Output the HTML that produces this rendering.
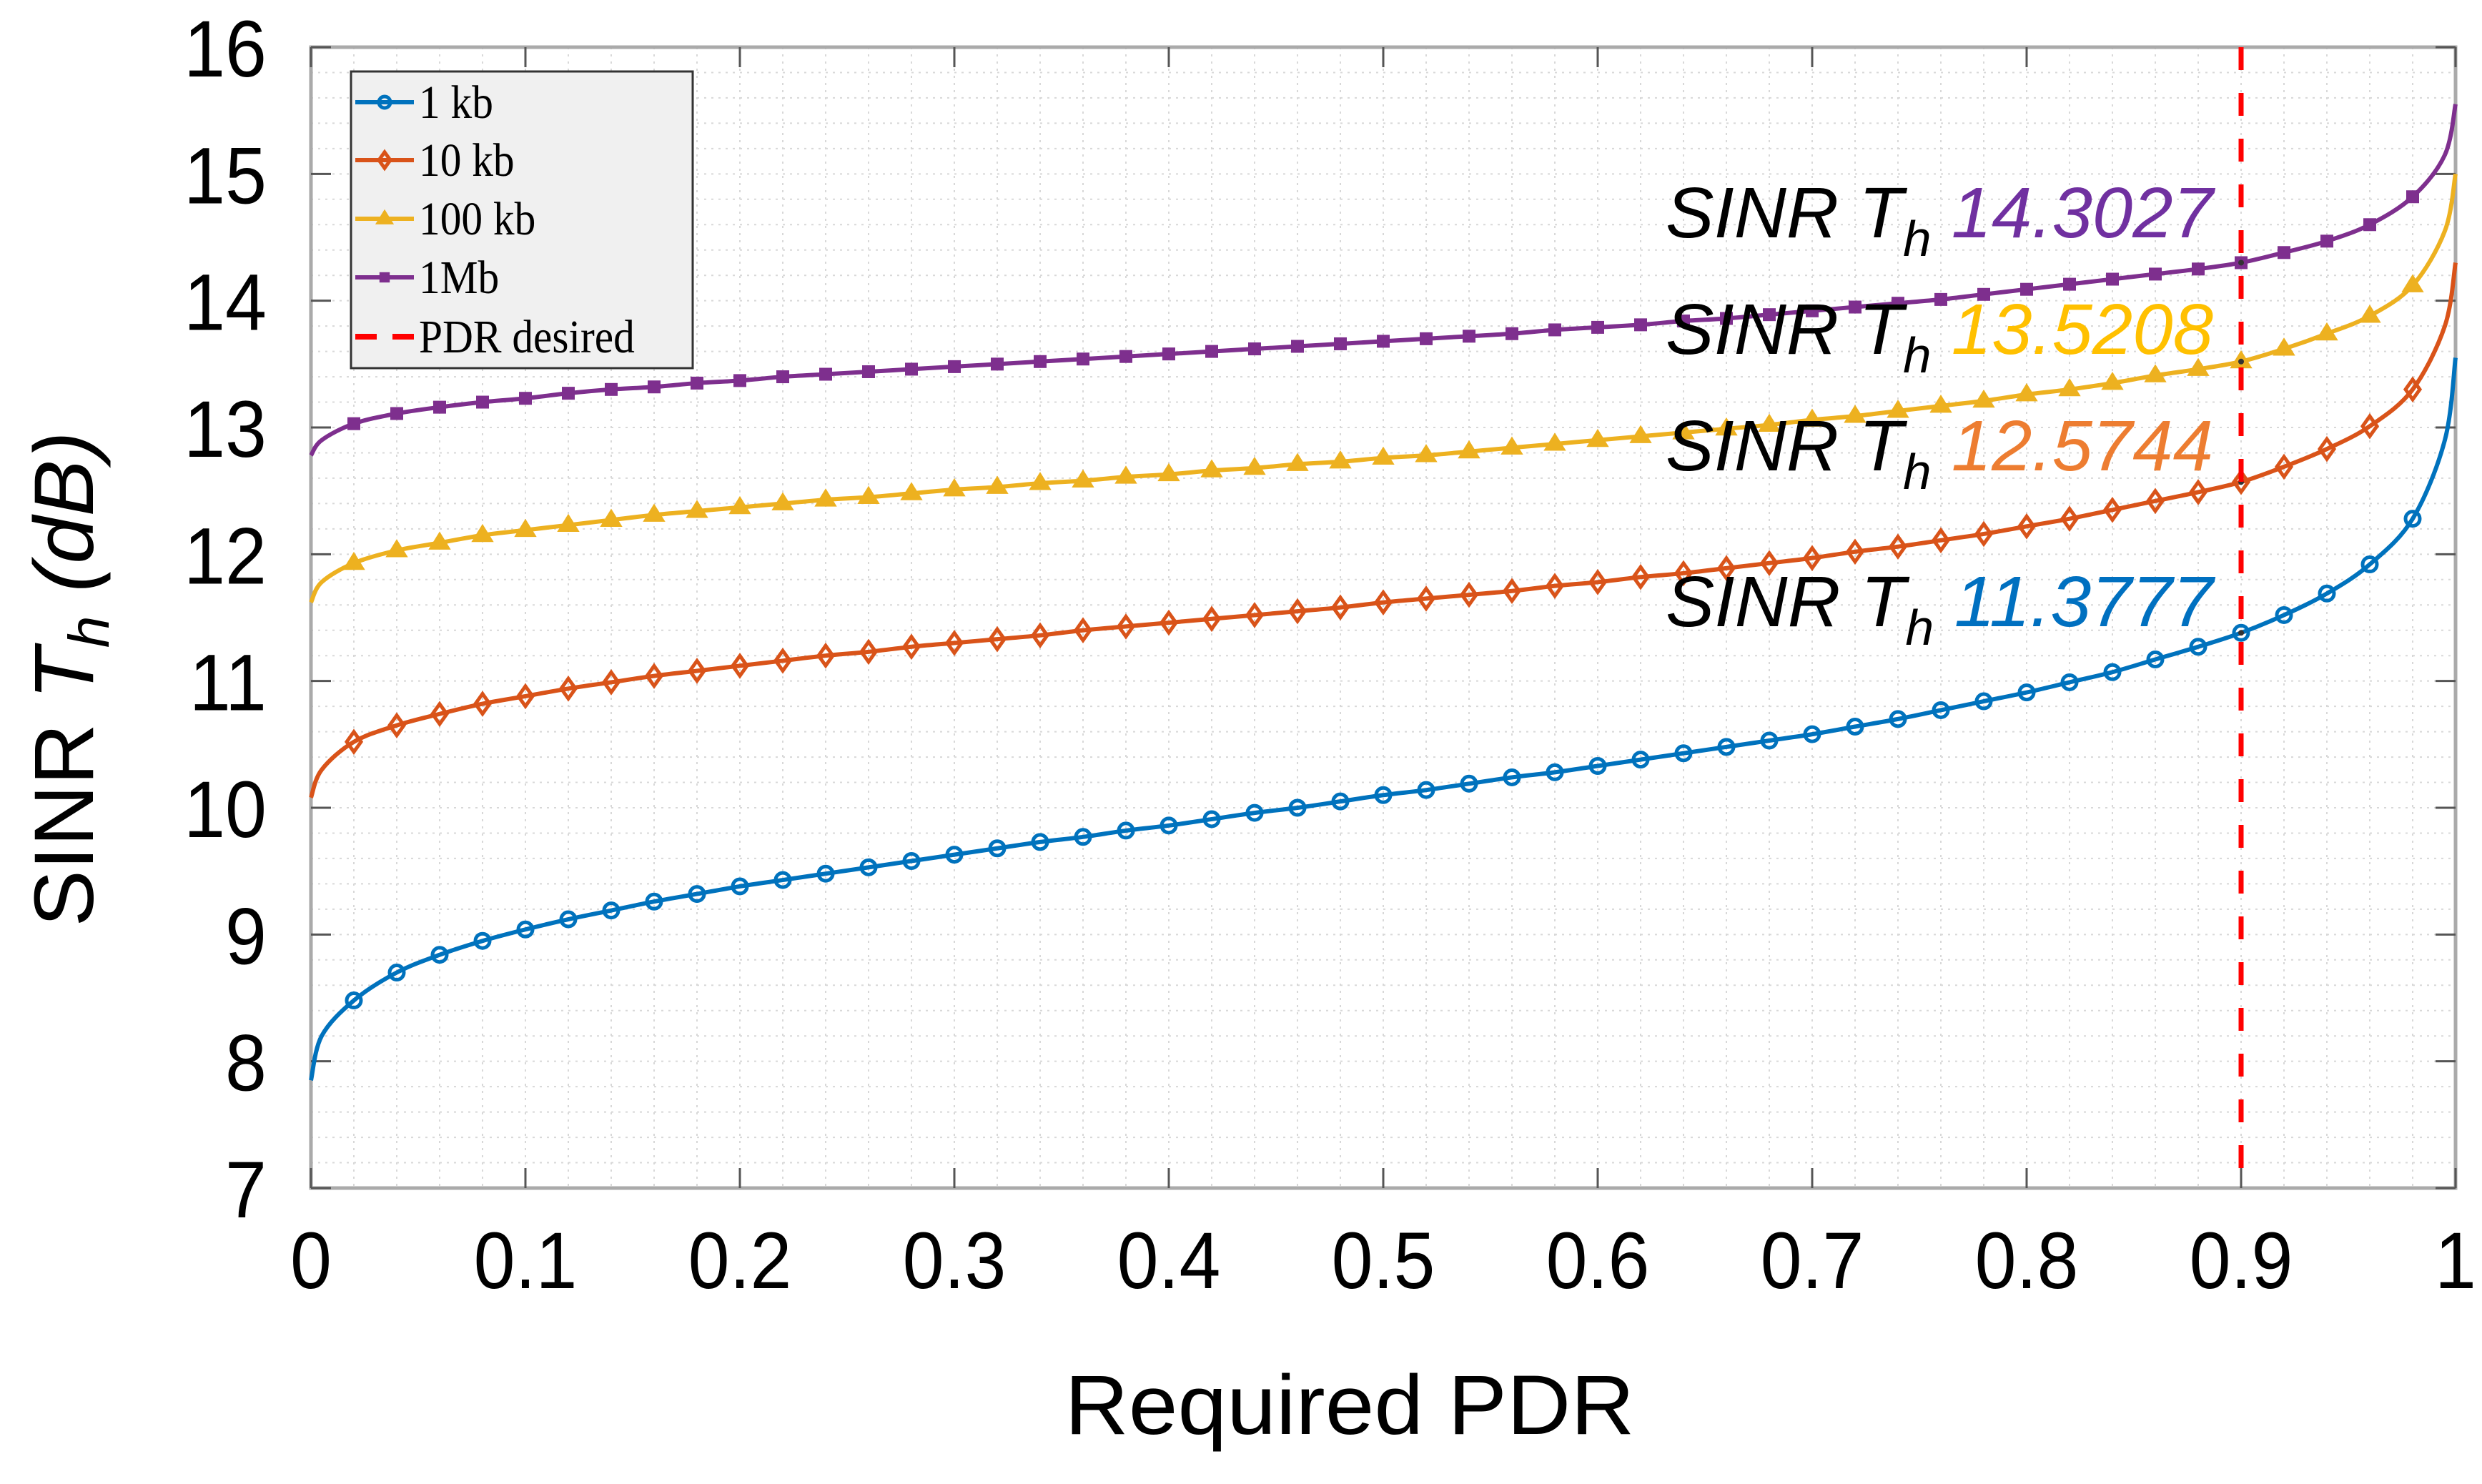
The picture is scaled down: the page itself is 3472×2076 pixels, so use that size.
<!DOCTYPE html>
<html><head><meta charset="utf-8"><style>
html,body{margin:0;padding:0;background:#fff;}
svg{display:block;}
</style></head><body>
<svg id="chart" xmlns="http://www.w3.org/2000/svg" width="3472" height="2076" viewBox="0 0 3472 2076">
<rect width="3472" height="2076" fill="#fff"/>
<g id="grid"></g>
<g id="axes"></g>
<g id="series"></g>
<g id="annot"></g>
<g id="legend"></g>
</svg>
<script>
const xs = [0,0.005,0.02,0.04,0.06,0.08,0.1,0.12,0.14,0.16,0.18,0.2,0.22,0.24,0.26,0.28,0.3,0.32,0.34,0.36,0.38,0.4,0.42,0.44,0.46,0.48,0.5,0.52,0.54,0.56,0.58,0.6,0.62,0.64,0.66,0.68,0.7,0.72,0.74,0.76,0.78,0.8,0.82,0.84,0.86,0.88,0.9,0.92,0.94,0.96,0.98,0.995,1];
const s1kb = [7.85,8.2,8.48,8.70,8.84,8.95,9.04,9.12,9.19,9.26,9.32,9.38,9.43,9.48,9.53,9.58,9.63,9.68,9.73,9.77,9.82,9.86,9.91,9.96,10.0,10.05,10.1,10.14,10.19,10.24,10.28,10.33,10.38,10.43,10.48,10.53,10.58,10.64,10.70,10.77,10.84,10.91,10.99,11.07,11.17,11.27,11.38,11.52,11.69,11.92,12.28,12.9,13.55];
const s10kb = [10.08,10.3,10.52,10.65,10.74,10.82,10.88,10.94,10.99,11.04,11.08,11.12,11.16,11.20,11.23,11.27,11.30,11.33,11.36,11.40,11.43,11.46,11.49,11.52,11.55,11.58,11.62,11.65,11.68,11.71,11.75,11.78,11.82,11.85,11.89,11.93,11.97,12.02,12.06,12.11,12.16,12.22,12.28,12.35,12.42,12.49,12.57,12.69,12.83,13.01,13.30,13.8,14.3];
const s100kb = [11.62,11.78,11.93,12.03,12.09,12.15,12.19,12.23,12.27,12.31,12.34,12.37,12.40,12.43,12.45,12.48,12.51,12.53,12.56,12.58,12.61,12.63,12.66,12.68,12.71,12.73,12.76,12.78,12.81,12.84,12.87,12.90,12.93,12.96,12.99,13.02,13.06,13.09,13.13,13.17,13.21,13.26,13.30,13.35,13.41,13.46,13.52,13.62,13.74,13.88,14.12,14.55,15.0];
const s1Mb = [12.78,12.9,13.03,13.11,13.16,13.20,13.23,13.27,13.30,13.32,13.35,13.37,13.40,13.42,13.44,13.46,13.48,13.50,13.52,13.54,13.56,13.58,13.60,13.62,13.64,13.66,13.68,13.70,13.72,13.74,13.77,13.79,13.81,13.84,13.86,13.89,13.92,13.95,13.98,14.01,14.05,14.09,14.13,14.17,14.21,14.25,14.30,14.38,14.47,14.60,14.82,15.15,15.55];
const xTicks = [0,0.1,0.2,0.3,0.4,0.5,0.6,0.7,0.8,0.9,1];
const xTickLabels = ["0","0.1","0.2","0.3","0.4","0.5","0.6","0.7","0.8","0.9","1"];
const yTicks = [7,8,9,10,11,12,13,14,15,16];
const yTickLabels = ["7","8","9","10","11","12","13","14","15","16"];
const seriesNames = ["1 kb","10 kb","100 kb","1Mb"];
const pdrDesired = 0.9;
const annotValues = ["14.3027","13.5208","12.5744","11.3777"];

const NS="http://www.w3.org/2000/svg";
const L=435,R=3435,T=66,B=1662;
const X=v=>L+(v-0)/(1-0)*(R-L);
const Y=v=>B-(v-7)/(16-7)*(B-T);
function mk(tag,attrs,parent){const e=document.createElementNS(NS,tag);for(const k in attrs)e.setAttribute(k,attrs[k]);parent.appendChild(e);return e;}
const grid=document.getElementById('grid'),axes=document.getElementById('axes'),ser=document.getElementById('series'),ann=document.getElementById('annot'),leg=document.getElementById('legend');

for(let i=1;i<50;i++){const x=X(i*0.02);const g=mk('line',{x1:x,x2:x,y1:T,y2:B,stroke:'#d8d8d8','stroke-width':2,'stroke-dasharray':'3 7'},grid);
}
for(let i=1;i<45;i++){const y=Y(7+i*0.2);const g=mk('line',{x1:L,x2:R,y1:y,y2:y,stroke:'#d8d8d8','stroke-width':2,'stroke-dasharray':'3 7'},grid);
}

const box=mk('rect',{x:L,y:T,width:R-L,height:B-T,fill:'none',stroke:'#aaa','stroke-width':5},axes);

xTicks.forEach((v,i)=>{const x=X(v);
 mk('line',{x1:x,x2:x,y1:B,y2:B-28,stroke:'#555','stroke-width':3},axes);
 mk('line',{x1:x,x2:x,y1:T,y2:T+28,stroke:'#555','stroke-width':3},axes);
 const t=mk('text',{x:x,y:1802,'text-anchor':'middle','font-family':'Liberation Sans, sans-serif','font-size':112,fill:'#000',transform:`translate(${x},0) scale(0.93,1) translate(${-x},0)`},axes);t.textContent=xTickLabels[i];
 });
yTicks.forEach((v,i)=>{const y=Y(v);
 mk('line',{x1:L,x2:L+28,y1:y,y2:y,stroke:'#555','stroke-width':3},axes);
 mk('line',{x1:R,x2:R-28,y1:y,y2:y,stroke:'#555','stroke-width':3},axes);
 const t=mk('text',{x:373,y:y+41,'text-anchor':'end','font-family':'Liberation Sans, sans-serif','font-size':112,fill:'#000',transform:`translate(373,0) scale(0.93,1) translate(-373,0)`},axes);t.textContent=yTickLabels[i];
 });
const xl=mk('text',{x:1888,y:2006,'text-anchor':'middle','font-family':'Liberation Sans, sans-serif','font-size':118,fill:'#000',textLength:797,lengthAdjust:'spacingAndGlyphs'},axes);
xl.textContent='Required PDR';
const yl=mk('text',{x:0,y:0,transform:'translate(130,950) rotate(-90)','text-anchor':'middle','font-family':'Liberation Sans, sans-serif','font-size':118,fill:'#000',textLength:693,lengthAdjust:'spacingAndGlyphs'},axes);
yl.innerHTML='SINR <tspan font-style="italic">T</tspan><tspan font-style="italic" font-size="80" dy="22">h</tspan><tspan dy="-22" font-style="italic"> (dB)</tspan>';


const colors=['#0072BD','#D95319','#EDB120','#7E2F8E'];
const data=[s1kb,s10kb,s100kb,s1Mb];
const shapes=['circle','diamond','triangle','square'];
function marker(shape,cx,cy,c,parent,r){
 let e;
 if(shape==='circle')e=mk('circle',{cx,cy,r:r,fill:'none',stroke:c,'stroke-width':5},parent);
 else if(shape==='diamond')e=mk('polygon',{points:`${cx},${cy-r*1.4} ${cx+r},${cy} ${cx},${cy+r*1.4} ${cx-r},${cy}`,fill:'none',stroke:c,'stroke-width':5},parent);
 else if(shape==='triangle')e=mk('polygon',{points:`${cx},${cy-r*1.3} ${cx+r*1.3},${cy+r*0.8} ${cx-r*1.3},${cy+r*0.8}`,fill:c,stroke:c,'stroke-width':3},parent);
 else e=mk('rect',{x:cx-r*0.9,y:cy-r*0.9,width:r*1.8,height:r*1.8,fill:c},parent);
 return e;
}
function smooth(pts){let d=`M${pts[0][0]},${pts[0][1]}`;
 for(let i=0;i<pts.length-1;i++){const p0=pts[Math.max(0,i-1)],p1=pts[i],p2=pts[i+1],p3=pts[Math.min(pts.length-1,i+2)];
  const c1=[p1[0]+(p2[0]-p0[0])/6,p1[1]+(p2[1]-p0[1])/6],c2=[p2[0]-(p3[0]-p1[0])/6,p2[1]-(p3[1]-p1[1])/6];
  d+=` C${c1[0]},${c1[1]} ${c2[0]},${c2[1]} ${p2[0]},${p2[1]}`;}
 return d;}
data.forEach((arr,si)=>{
 const g=mk('g',{},ser);
 const pts=xs.map((x,i)=>[X(x),Y(arr[i])]);
 const p=mk('path',{d:smooth(pts),fill:'none',stroke:colors[si],'stroke-width':6},g);
 
 xs.forEach((x,i)=>{const k=Math.round(x*100);if(k%2!==0||k===0||k===100||Math.abs(x*100-k)>1e-6)return;
  const m=marker(shapes[si],X(x),Y(arr[i]),colors[si],g,10);
  
  if(k===90){const d=mk('circle',{cx:X(x),cy:Y(arr[i]),r:4,fill:'#333'},g);}
 });
});
const vl=mk('line',{x1:X(pdrDesired),x2:X(pdrDesired),y1:T,y2:B,stroke:'#ff0000','stroke-width':7,'stroke-dasharray':'32 32'},ser);


const acol=['#7030A0','#FFC000','#ED7D31','#0070C0'];
const baseY=[332,495,658,876];
annotValues.forEach((v,i)=>{
 const t=mk('text',{x:3096,y:baseY[i],'text-anchor':'end','font-family':'Liberation Sans, sans-serif','font-style':'italic','font-size':100,fill:'#000',textLength:766,lengthAdjust:'spacingAndGlyphs'},ann);
 t.innerHTML='SINR T<tspan font-size="70" dy="26">h</tspan><tspan dy="-26"> </tspan><tspan fill="'+acol[i]+'">'+v+'</tspan>';
 
});

const lb=mk('rect',{x:491,y:100,width:478,height:415,fill:'#f0f0f0',stroke:'#333','stroke-width':3},leg);

const rows=[143,224,306,388,471];
const labels=seriesNames.concat(['PDR desired']);
rows.forEach((y,i)=>{
 const g=mk('g',{},leg);
 if(i<4){mk('line',{x1:497,x2:579,y1:y,y2:y,stroke:colors[i],'stroke-width':6},g);marker(shapes[i],538,y,colors[i],g,8);}
 else{mk('line',{x1:497,x2:579,y1:y,y2:y,stroke:'#ff0000','stroke-width':8,'stroke-dasharray':'30 22'},g);}
 const t=mk('text',{x:586,y:y+22,'font-family':'Liberation Serif, serif','font-size':66,fill:'#000',transform:'translate(586,0) scale(0.9,1) translate(-586,0)'},g);t.textContent=labels[i];
});
</script>
</body></html>
